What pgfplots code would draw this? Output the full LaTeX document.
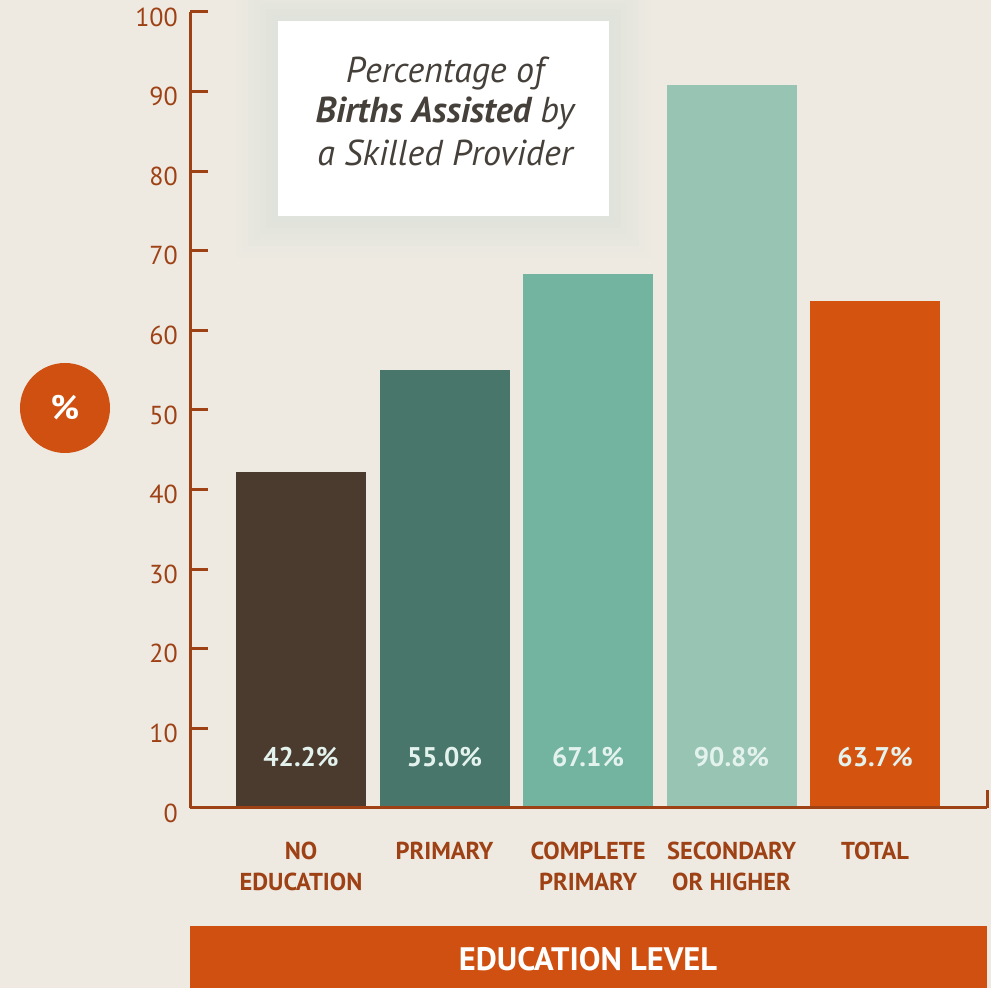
\documentclass[border=0pt]{standalone}
\usepackage{fontspec}
\setmainfont{PT Sans}
\usepackage{pgfplots}
\pgfplotsset{compat=1.18}
\definecolor{bg}{HTML}{EEEAE2}
\definecolor{axc}{HTML}{9E4216}
\definecolor{c1}{HTML}{4A3B2E}
\definecolor{c2}{HTML}{48766A}
\definecolor{c3}{HTML}{73B4A0}
\definecolor{c4}{HTML}{97C4B3}
\definecolor{c5}{HTML}{D4540F}
\definecolor{orng}{HTML}{CF5010}
\definecolor{titc}{HTML}{45403A}
\definecolor{vlab}{HTML}{E4F2EE}
\definecolor{glow}{HTML}{C2D3C8}
\begin{document}
\begin{tikzpicture}[x=1pt,y=1pt]
\useasboundingbox (0,0) rectangle (991,988);
\fill[bg] (0,0) rectangle (991,988);
\foreach \r in {6,12,...,42} {\fill[glow, opacity=0.035] (278-\r,772-\r) rectangle (609+\r,967+\r);}
\begin{axis}[
  at={(190pt,180pt)}, anchor=south west, scale only axis,
  width=797pt, height=796pt,
  xmin=-0.7735, xmax=4.78, ymin=0, ymax=100,
  axis x line=bottom, axis y line=left,
  axis line style={-, line width=3pt, color=axc},
  clip=false, axis on top,
  ytick={0,10,...,100},
  ytick pos=left, tick align=inside,
  major tick length=18pt,
  ytick style={line width=3pt, color=axc},
  xtick={0,1,2,3,4},
  xtick style={draw=none},
  xticklabels={{NO\\EDUCATION},{PRIMARY},{COMPLETE\\PRIMARY},{SECONDARY\\OR HIGHER},{TOTAL}},
  xticklabel style={font=\fontsize{24.5}{31}\selectfont\bfseries, text=axc, align=center, inner sep=0pt, yshift=-34pt},
  yticklabel style={font=\fontsize{26}{30}\selectfont, text=axc, anchor=east, inner sep=0pt, xshift=-12pt, yshift=-5pt},
  /pgf/number format/assume math mode=true,
]
\addplot[ybar, bar width=130pt, bar shift=0pt, fill=c1, draw=none] coordinates {(0,42.2)};
\addplot[ybar, bar width=130pt, bar shift=0pt, fill=c2, draw=none] coordinates {(1,55.0)};
\addplot[ybar, bar width=130pt, bar shift=0pt, fill=c3, draw=none] coordinates {(2,67.1)};
\addplot[ybar, bar width=130pt, bar shift=0pt, fill=c4, draw=none] coordinates {(3,90.8)};
\addplot[ybar, bar width=130pt, bar shift=0pt, fill=c5, draw=none] coordinates {(4,63.7)};
\addplot[draw=none, mark=none, nodes near coords, point meta=explicit symbolic,
  nodes near coords style={anchor=center, text=vlab, font=\fontsize{27}{30}\selectfont\bfseries}]
  coordinates {(0,6.4)[42.2\%] (1,6.4)[55.0\%] (2,6.4)[67.1\%] (3,6.4)[90.8\%] (4,6.4)[63.7\%]};
\draw[axc, line width=3pt] (axis cs:4.78,0) -- (axis cs:4.78,2.3);
\end{axis}
% title box
\fill[white] (278,772) rectangle (609,967);
\node[anchor=base, text=titc, font=\fontsize{36}{40}\selectfont\itshape] at (445,905) {Percentage of};
\node[anchor=base, text=titc, font=\fontsize{36}{40}\selectfont\itshape] at (445,865) {\textbf{Births Assisted} by};
\node[anchor=base, text=titc, font=\fontsize{36}{40}\selectfont\itshape] at (445,822) {a Skilled Provider};
% percent circle
\fill[orng] (65,580) circle (45);
\node[text=white, font=\fontsize{34}{40}\selectfont\bfseries] at (65,580) {\%};
% banner
\fill[orng] (190,0) rectangle (987,62);
\node[text=white, font=\fontsize{32.5}{36}\selectfont\bfseries] at (588,29) {EDUCATION LEVEL};
\end{tikzpicture}
\end{document}
